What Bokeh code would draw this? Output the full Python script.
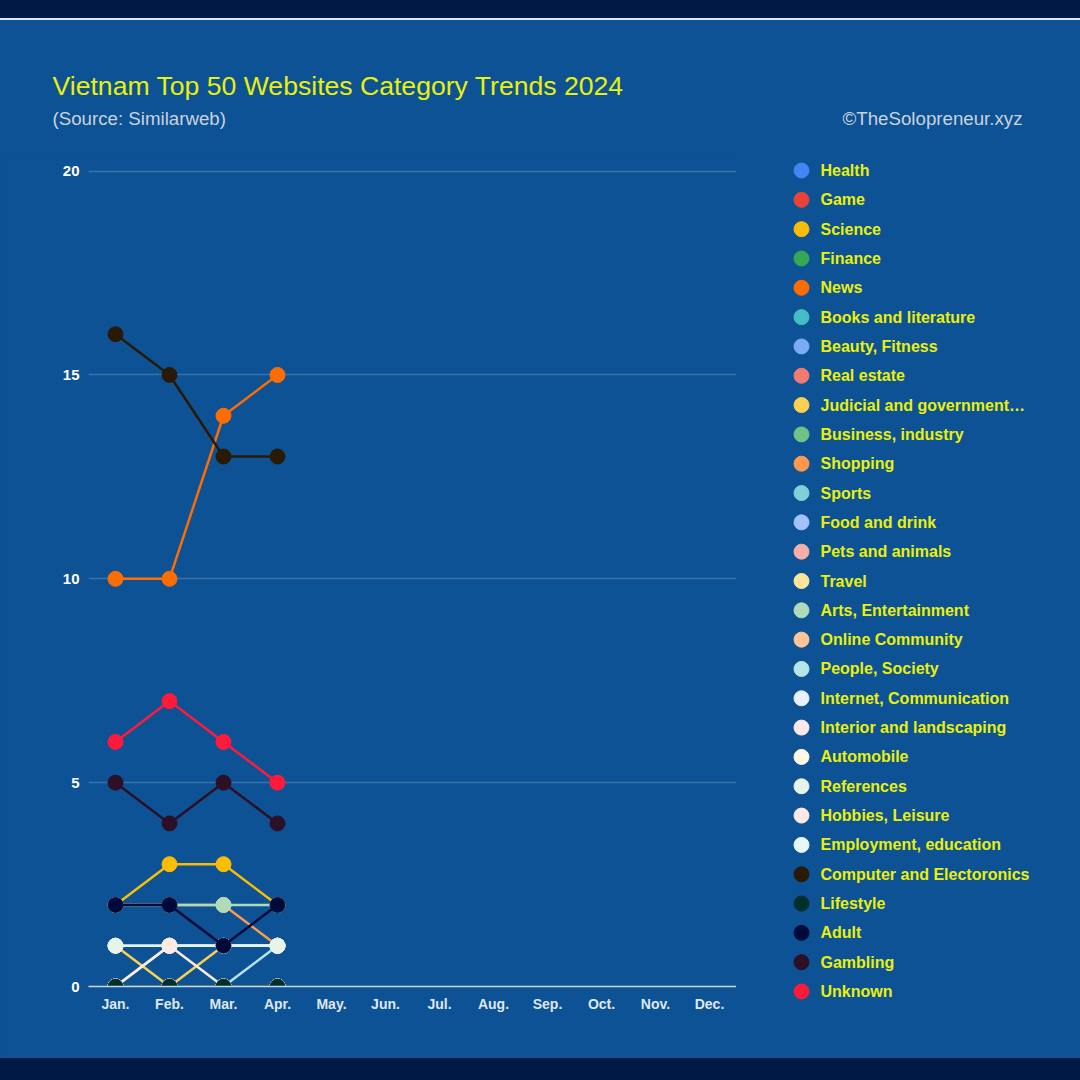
from bokeh.plotting import figure
from bokeh.models import FactorRange, Range1d, FixedTicker, ColumnDataSource
from bokeh.layouts import column, row
from bokeh.core.properties import value
from bokeh.embed import file_html
from bokeh.resources import INLINE

# ---------------- data ----------------
months = ["Jan.", "Feb.", "Mar.", "Apr.", "May.", "Jun.",
          "Jul.", "Aug.", "Sep.", "Oct.", "Nov.", "Dec."]
y_ticks = [0, 5, 10, 15, 20]

categories = [
    "Health", "Game", "Science", "Finance", "News", "Books and literature",
    "Beauty, Fitness", "Real estate", "Judicial and government\u2026",
    "Business, industry", "Shopping", "Sports", "Food and drink",
    "Pets and animals", "Travel", "Arts, Entertainment", "Online Community",
    "People, Society", "Internet, Communication", "Interior and landscaping",
    "Automobile", "References", "Hobbies, Leisure", "Employment, education",
    "Computer and Electoronics", "Lifestyle", "Adult", "Gambling", "Unknown",
]

colors = [
    "#4285f4", "#ea4335", "#fbbc04", "#34a853", "#ff6d01", "#46bdc6",
    "#7baaf7", "#f07b72", "#fcd04f", "#71c287", "#ff994d", "#7ed1d7",
    "#a1c2fa", "#f6aea9", "#fde49b", "#aedcba", "#ffc599", "#b5e5e8",
    "#e8f0fe", "#fce8e6", "#fff8e7", "#e6f4ea", "#fdeae4", "#e7f6f8",
    "#2a1a04", "#00302b", "#000a3a", "#2d1026", "#ff1a3c",
]

# monthly counts Jan.-Apr.
health = [0, 0, 0, 0]
game = [0, 0, 0, 0]
science = [2, 3, 3, 2]
finance = [0, 0, 0, 0]
news = [10, 10, 14, 15]
books = [0, 0, 0, 0]
beauty = [0, 0, 0, 0]
real_estate = [0, 0, 0, 0]
judicial = [1, 0, 1, 1]
business = [0, 0, 0, 0]
shopping = [2, 2, 2, 1]
sports = [0, 0, 0, 0]
food = [0, 0, 0, 0]
pets = [0, 0, 0, 0]
travel = [0, 0, 0, 0]
arts = [2, 2, 2, 2]
online_community = [0, 0, 0, 0]
people = [0, 0, 0, 1]
internet = [1, 1, 1, 1]
interior = [0, 0, 0, 0]
automobile = [0, 1, 1, 1]
references = [1, 1, 1, 1]
hobbies = [0, 1, 0, 0]
employment = [0, 0, 0, 0]
computer = [16, 15, 13, 13]
lifestyle = [0, 0, 0, 0]
adult = [2, 2, 1, 2]
gambling = [5, 4, 5, 4]
unknown = [6, 7, 6, 5]

series = [health, game, science, finance, news, books, beauty, real_estate,
          judicial, business, shopping, sports, food, pets, travel, arts,
          online_community, people, internet, interior, automobile,
          references, hobbies, employment, computer, lifestyle, adult,
          gambling, unknown]

# ---------------- style ----------------
BG = "#0d5294"
NAVY = "#001a45"
YELLOW = "#e9f00c"
FONT = "Liberation Sans"


def no_align(fig):
    try:
        fig.frame_align = False
    except Exception:
        pass


# ---------------- header ----------------
HEAD_H = 138
head = figure(width=1080, height=HEAD_H, x_range=Range1d(0, 1080),
              y_range=Range1d(HEAD_H, 0), output_backend="svg",
              toolbar_location=None, x_axis_location=None,
              y_axis_location=None, min_border=0,
              background_fill_color=BG, border_fill_color=BG,
              outline_line_color=None)
no_align(head)
head.grid.visible = False
head.text(x=[52], y=[65], text=["Vietnam Top 50 Websites Category Trends 2024"],
          text_font=value(FONT), text_font_size=value("26.6px"),
          text_color=YELLOW, text_baseline="middle", text_align="left")
head.text(x=[52], y=[98], text=["(Source: Similarweb)"],
          text_font=value(FONT), text_font_size=value("18.7px"),
          text_color="#c9d3df", text_baseline="middle", text_align="left")
head.text(x=[1022], y=[98], text=["\u00a9TheSolopreneur.xyz"],
          text_font=value(FONT), text_font_size=value("18.7px"),
          text_color="#c9d3df", text_baseline="middle", text_align="right")

# ---------------- main chart ----------------
MAIN_H = 902
p = figure(width=736, height=MAIN_H, x_range=FactorRange(*months),
           y_range=Range1d(0, 20.04), output_backend="svg",
           toolbar_location=None, min_border_left=88, min_border_right=0,
           min_border_top=11, min_border_bottom=74,
           background_fill_color=BG, border_fill_color=BG,
           outline_line_color=None)
no_align(p)

p.xgrid.visible = False
p.ygrid.ticker = FixedTicker(ticks=y_ticks)
p.ygrid.grid_line_color = "#3a73aa"
p.ygrid.grid_line_width = 1.5

p.yaxis.ticker = FixedTicker(ticks=y_ticks)
p.yaxis.axis_line_color = None
p.yaxis.major_tick_line_color = None
p.yaxis.minor_tick_line_color = None
p.yaxis.major_tick_out = 0
p.yaxis.major_tick_in = 0
p.yaxis.minor_tick_out = 0
p.yaxis.major_label_standoff = 9
p.yaxis.major_label_text_color = "#ffffff"
p.yaxis.major_label_text_font = FONT
p.yaxis.major_label_text_font_size = "15px"
p.yaxis.major_label_text_font_style = "bold"

p.xaxis.axis_line_color = "#c9d7e6"
p.xaxis.axis_line_width = 1.5
p.xaxis.major_tick_line_color = None
p.xaxis.minor_tick_line_color = None
p.xaxis.major_tick_out = 0
p.xaxis.major_tick_in = 0
p.xaxis.minor_tick_out = 0
p.xaxis.major_label_standoff = 9
p.xaxis.major_label_text_color = "#dfe7f0"
p.xaxis.major_label_text_font = FONT
p.xaxis.major_label_text_font_size = "14px"
p.xaxis.major_label_text_font_style = "bold"

for name, vals, col in zip(categories, series, colors):
    src = ColumnDataSource(dict(x=months[:len(vals)], y=vals))
    p.line("x", "y", source=src, line_color=col, line_width=2.5)
    p.scatter("x", "y", source=src, size=15, fill_color=col,
              line_color=col, line_width=1)

# ---------------- legend ----------------
leg = figure(width=344, height=MAIN_H, x_range=Range1d(0, 344),
             y_range=Range1d(MAIN_H, 0), output_backend="svg",
             toolbar_location=None, x_axis_location=None,
             y_axis_location=None, min_border=0,
             background_fill_color=BG, border_fill_color=BG,
             outline_line_color=None)
no_align(leg)
leg.grid.visible = False
step = 821 / (len(categories) - 1)
ly = [12 + i * step for i in range(len(categories))]
lsrc = ColumnDataSource(dict(cx=[65] * len(categories),
                             tx=[84] * len(categories),
                             y=ly, name=categories, color=colors))
leg.scatter("cx", "y", source=lsrc, size=15, fill_color="color",
            line_color="color")
leg.text("tx", "y", text="name", source=lsrc, text_font=value(FONT),
         text_font_size=value("16px"), text_font_style="bold",
         text_color=YELLOW, text_baseline="middle", text_align="left")

layout = column(head, row(p, leg, spacing=0), spacing=0)

html = file_html(layout, INLINE, title="Vietnam Top 50 Websites Category Trends 2024")
style = ("<style>html{margin:0;padding:0;background:%s;height:1080px;overflow:hidden;}"
         "body{margin:18px 0 0 0;padding:0;background:%s;"
         "border-top:2px solid #dfe8f2;height:1040px;overflow:hidden;}"
         "</style></head>" % (NAVY, BG))
html = html.replace("</head>", style, 1)
open("out.html", "w").write(html)
